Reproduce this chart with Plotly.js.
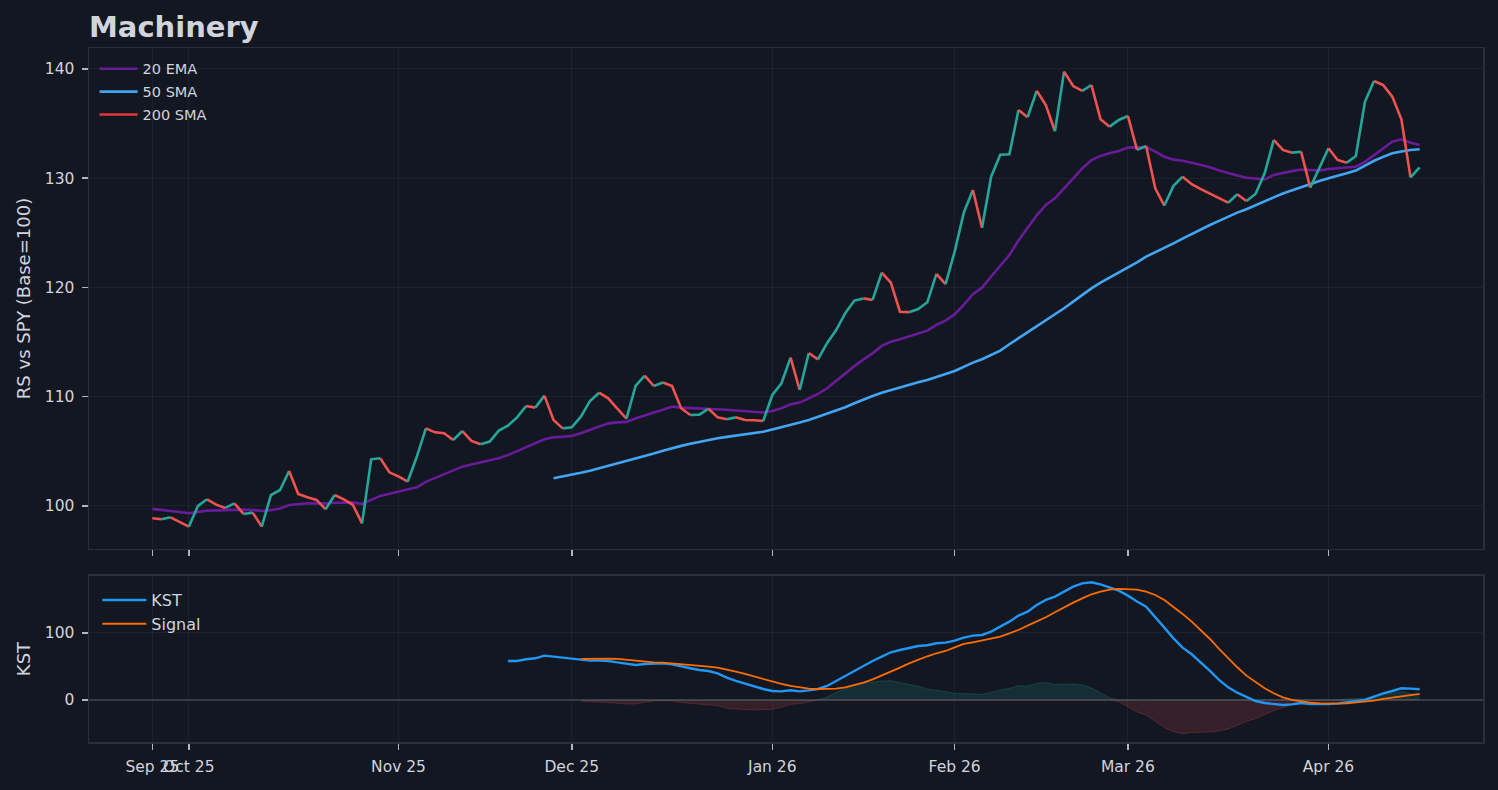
<!DOCTYPE html>
<html>
<head>
<meta charset="utf-8">
<script src="https://cdn.plot.ly/plotly-3.0.1.min.js"></script>
<style>
  html, body { margin: 0; padding: 0; background: #131722; }
  #chart { width: 1498px; height: 790px; }
</style>
</head>
<body>
<div id="chart"></div>
<script>
// trading-day index of the first session of each month (Sep 25 = first bar)
var tickIdx = [0, 4, 27, 46, 68, 88, 107, 129];
var tickLabels = ['Sep 25', 'Oct 25', 'Nov 25', 'Dec 25', 'Jan 26', 'Feb 26', 'Mar 26', 'Apr 26'];

// relative strength vs SPY, base 100
var rs = [
  98.87, 98.78, 98.96, 98.54, 98.11, 100.0, 100.61, 100.12, 99.82, 100.24,
  99.27, 99.39, 98.11, 101.0, 101.46, 103.2, 101.1, 100.8, 100.55, 99.7,
  101.0, 100.61, 100.09, 98.4, 104.27, 104.36, 103.08, 102.7, 102.22, 104.5,
  107.1, 106.74, 106.65, 106.04, 106.86, 105.95, 105.64, 105.89, 106.9, 107.35,
  108.11, 109.15, 109.0, 110.1, 107.87, 107.1, 107.2, 108.17, 109.61, 110.37,
  109.85, 108.9, 108.0, 110.98, 111.93, 110.98, 111.3, 110.98, 108.94, 108.33,
  108.36, 108.9, 108.11, 107.93, 108.11, 107.87, 107.85, 107.78, 110.16, 111.23,
  113.58, 110.62, 114.0, 113.42, 114.9, 116.1, 117.65, 118.8, 119.0, 118.86,
  121.36, 120.44, 117.78, 117.74, 118.03, 118.64, 121.24, 120.3, 123.28, 126.85,
  128.92, 125.47, 130.14, 132.15, 132.2, 136.25, 135.58, 138.0, 136.7, 134.3,
  139.76, 138.44, 137.99, 138.53, 135.39, 134.72, 135.33, 135.7, 132.59, 132.95,
  129.08, 127.5, 129.3, 130.14, 129.45, 129.0, 128.6, 128.16, 127.76, 128.53,
  127.92, 128.56, 130.45, 133.5, 132.59, 132.34, 132.43, 129.14, 130.9, 132.74,
  131.67, 131.42, 132.04, 137.0, 138.9, 138.53, 137.47, 135.4, 130.08, 131.0
];

var ema20 = [
  99.73, 99.65, 99.57, 99.45, 99.33, 99.45, 99.57, 99.6, 99.62, 99.7,
  99.66, 99.63, 99.54, 99.62, 99.76, 100.09, 100.18, 100.24, 100.25, 100.24,
  100.3, 100.34, 100.33, 100.18, 100.55, 100.92, 101.12, 101.31, 101.46, 101.7,
  102.2, 102.55, 102.9, 103.25, 103.6, 103.8, 103.97, 104.17, 104.36, 104.65,
  105.0, 105.35, 105.7, 106.1, 106.28, 106.35, 106.4, 106.65, 106.96, 107.26,
  107.56, 107.65, 107.7, 108.0, 108.3, 108.55, 108.8, 109.1, 109.0, 108.97,
  108.94, 108.9, 108.85, 108.8, 108.74, 108.68, 108.62, 108.55, 108.7, 108.94,
  109.3, 109.46, 109.85, 110.25, 110.77, 111.47, 112.14, 112.8, 113.42, 113.97,
  114.65, 115.04, 115.26, 115.5, 115.74, 116.05, 116.57, 116.96, 117.55, 118.4,
  119.38, 119.98, 121.0, 121.97, 122.97, 124.3, 125.5, 126.6, 127.55, 128.16,
  129.08, 130.0, 130.9, 131.67, 132.04, 132.28, 132.5, 132.8, 132.8, 132.85,
  132.43, 131.97, 131.7, 131.6, 131.42, 131.2, 131.0, 130.7, 130.45, 130.25,
  130.05, 129.95, 129.9, 130.3, 130.5, 130.65, 130.8, 130.75, 130.7, 130.85,
  130.9, 130.95, 131.05, 131.5, 132.13, 132.74, 133.35, 133.56, 133.25, 133.04
];

var sma50Start = 44;
var sma50 = [
  102.53, 102.68, 102.84, 103.03, 103.23,
  103.45, 103.66, 103.88, 104.1, 104.3, 104.55, 104.8, 105.05, 105.3, 105.5,
  105.7, 105.88, 106.04, 106.2, 106.32, 106.45, 106.55, 106.68, 106.8, 107.0,
  107.2, 107.45, 107.63, 107.87, 108.17, 108.42, 108.7, 109.03, 109.4, 109.76,
  110.07, 110.37, 110.62, 110.86, 111.08, 111.32, 111.53, 111.84, 112.08, 112.36,
  112.75, 113.12, 113.43, 113.82, 114.22, 114.8, 115.35, 115.87, 116.41, 116.96,
  117.55, 118.1, 118.7, 119.31, 119.92, 120.44, 120.9, 121.36, 121.85, 122.3,
  122.82, 123.22, 123.58, 124.04, 124.47, 124.9, 125.26, 125.72, 126.1, 126.5,
  126.85, 127.16, 127.5, 127.86, 128.25, 128.6, 128.9, 129.2, 129.5, 129.75,
  130.0, 130.2, 130.45, 130.7, 131.15, 131.6, 131.95, 132.28, 132.45, 132.59,
  132.65
];

// not enough history for a 200 day average: legend entry only
var sma200 = [null];

var kstStart = 39;
var kst = [
  58.2, 58.2, 60.7, 62.2, 66.2,
  64.7, 62.2, 60.7, 59.7, 58.7, 58.7, 58.2, 56.2, 53.7, 52.2,
  53.7, 54.7, 54.7, 53.2, 49.8, 47.3, 44.8, 43.3, 39.8, 33.3,
  28.4, 24.4, 19.9, 16.4, 13.4, 12.9, 14.4, 12.9, 14.4, 16.4,
  20.9, 28.4, 35.8, 43.8, 51.2, 58.2, 64.7, 71.2, 74.6, 78.1,
  80.6, 81.6, 84.6, 85.6, 88.5, 93, 96, 97, 102, 109.4,
  116.9, 125.9, 131.8, 141.8, 149.3, 154.2, 161.7, 169.2, 174.1, 175.6,
  172.6, 167.7, 163.2, 155.7, 146.8, 139.3, 124.4, 108, 92, 78.1,
  68.2, 56.2, 43.3, 29.9, 18.9, 10.9, 4.5, -1.5, -4.5, -6,
  -7.5, -6.5, -4.5, -6, -6.5, -6, -5, -3.5, -2.5, 0,
  5, 10, 13.4, 17.4, 16.9, 16
];

var signalStart = 47;
var signal = [
  61.2, 61.7,
  61.7, 61.7, 61.2, 59.7, 58.2, 57.2, 56.2, 55.7, 54.7, 53.7,
  52.2, 51.2, 49.8, 48.3, 45.8, 42.3, 38.8, 34.8, 31.3, 27.4,
  23.9, 20.9, 18.4, 16.9, 16.4, 16.4, 16.9, 18.9, 21.9, 25.9,
  30.8, 36.3, 42.3, 48.3, 54.7, 60.2, 65.2, 69.7, 73.1, 78.5,
  83.6, 86.1, 88.6, 91, 94.5, 99.5, 104.5, 110.9, 116.9, 123.4,
  130.8, 138.3, 145.3, 151.7, 157.7, 161.7, 164.7, 165.7, 165.7, 164.7,
  161.7, 156.7, 149.3, 139.3, 128.4, 116.9, 104.5, 91, 76.1, 62.2,
  48.8, 36.3, 26.4, 17.4, 10, 4, 0, -2.5, -4, -5,
  -5.5, -5.5, -5, -4, -2.5, -1, 1.5, 3.5, 5, 7,
  9
];

var BG = '#131722';
var TEXT = '#d1d4dc';
var FRAME = '#2a2e39';
var GRID = 'rgba(255,255,255,0.045)';
var UP = '#26a69a';
var DOWN = '#ef5350';

function idx(start, arr) {
  var out = [];
  for (var j = 0; j < arr.length; j++) out.push(start + j);
  return out;
}

var traces = [];

traces.push({
  x: idx(0, ema20), y: ema20, name: '20 EMA', type: 'scatter', mode: 'lines', legendgroup: 'a',
  line: {color: '#6a1b9a', width: 2.6}, xaxis: 'x', yaxis: 'y', hoverinfo: 'skip'
});
traces.push({
  x: idx(sma50Start, sma50), y: sma50, name: '50 SMA', type: 'scatter', mode: 'lines', legendgroup: 'b',
  line: {color: '#42a5f5', width: 2.6}, xaxis: 'x', yaxis: 'y', hoverinfo: 'skip'
});
traces.push({
  x: idx(0, sma200), y: sma200, name: '200 SMA', type: 'scatter', mode: 'lines', legendgroup: 'c',
  line: {color: '#e53935', width: 2.6}, xaxis: 'x', yaxis: 'y', hoverinfo: 'skip'
});

// RS line coloured by direction: one trace per run of up / down days
var start = 0;
for (var i = 1; i < rs.length; i++) {
  var up = rs[i] > rs[i - 1];
  var nextUp = (i + 1 < rs.length) ? rs[i + 1] > rs[i] : null;
  if (nextUp !== up) {
    var xs = [], ys = [];
    for (var j = start; j <= i; j++) { xs.push(j); ys.push(rs[j]); }
    traces.push({
      x: xs, y: ys, type: 'scatter', mode: 'lines', showlegend: false,
      line: {color: up ? UP : DOWN, width: 2.6}, xaxis: 'x', yaxis: 'y', hoverinfo: 'skip'
    });
    start = i;
  }
}

// KST histogram = KST - signal, split by sign
var hx = [], hPos = [], hNeg = [];
for (var k = 0; k < signal.length; k++) {
  var d = signalStart + k;
  var h = kst[d - kstStart] - signal[k];
  hx.push(d);
  hPos.push(Math.max(h, 0));
  hNeg.push(Math.min(h, 0));
}
traces.push({
  x: hx, y: hPos, type: 'scatter', mode: 'lines', fill: 'tozeroy', showlegend: false,
  fillcolor: 'rgba(38,166,154,0.16)', line: {color: 'rgba(38,166,154,0.22)', width: 1},
  xaxis: 'x2', yaxis: 'y2', hoverinfo: 'skip'
});
traces.push({
  x: hx, y: hNeg, type: 'scatter', mode: 'lines', fill: 'tozeroy', showlegend: false,
  fillcolor: 'rgba(239,83,80,0.16)', line: {color: 'rgba(239,83,80,0.22)', width: 1},
  xaxis: 'x2', yaxis: 'y2', hoverinfo: 'skip'
});
traces.push({
  x: idx(kstStart, kst), y: kst, name: 'KST', type: 'scatter', mode: 'lines', legendgroup: 'k',
  line: {color: '#2196f3', width: 2.4}, xaxis: 'x2', yaxis: 'y2', legend: 'legend2', hoverinfo: 'skip'
});
traces.push({
  x: idx(signalStart, signal), y: signal, name: 'Signal', type: 'scatter', mode: 'lines', legendgroup: 's',
  line: {color: '#ff6d00', width: 1.8}, xaxis: 'x2', yaxis: 'y2', legend: 'legend2', hoverinfo: 'skip'
});

var xCommon = {
  range: [-6.95, 145.95],
  tickmode: 'array', tickvals: tickIdx, ticktext: tickLabels, tickangle: 0,
  ticks: 'outside', ticklen: 6, tickwidth: 1.5, tickcolor: '#b2b5be',
  ticklabelstandoff: 4,
  showgrid: true, gridcolor: GRID, gridwidth: 1,
  showline: true, mirror: true, linecolor: FRAME, linewidth: 1.5,
  zeroline: false, automargin: false,
  tickfont: {size: 15.5, color: TEXT}
};

var layout = {
  width: 1498, height: 790,
  paper_bgcolor: BG, plot_bgcolor: BG,
  font: {family: 'DejaVu Sans', color: TEXT},
  margin: {l: 89, r: 15, t: 48, b: 48, pad: 0},
  title: {
    text: '<b>Machinery</b>', x: 0.0594, xanchor: 'left', xref: 'container',
    y: 0.966, yanchor: 'middle', font: {size: 29, color: '#d1d4dc', family: 'DejaVu Sans'}
  },
  showlegend: true,
  legend: {
    x: 0.004, y: 0.993, xanchor: 'left', yanchor: 'top', itemwidth: 38,
    bgcolor: 'rgba(0,0,0,0)', font: {size: 14.5, color: TEXT}, tracegroupgap: 1
  },
  legend2: {
    x: 0.006, y: 0.229, xanchor: 'left', yanchor: 'top', itemwidth: 44,
    bgcolor: 'rgba(0,0,0,0)', font: {size: 16, color: TEXT}, tracegroupgap: 0
  },
  xaxis: Object.assign({}, xCommon, {anchor: 'y', showticklabels: false}),
  xaxis2: Object.assign({}, xCommon, {anchor: 'y2', showticklabels: true}),
  yaxis: {
    domain: [0.2781, 1], anchor: 'x', range: [96.06, 141.92],
    tickmode: 'array', tickvals: [100, 110, 120, 130, 140],
    ticks: 'outside', ticklen: 6, tickwidth: 1.5, tickcolor: '#b2b5be',
    ticklabelstandoff: 4,
    showgrid: true, gridcolor: GRID, showline: true, mirror: true,
    linecolor: FRAME, linewidth: 1.5, zeroline: false, automargin: false,
    tickfont: {size: 15.5, color: TEXT},
    title: {text: 'RS vs SPY (Base=100)', font: {size: 18, color: TEXT}, standoff: 9}
  },
  yaxis2: {
    domain: [0, 0.2392], anchor: 'x2', range: [-62.7, 185],
    tickmode: 'array', tickvals: [0, 100],
    ticks: 'outside', ticklen: 6, tickwidth: 1.5, tickcolor: '#b2b5be',
    ticklabelstandoff: 4,
    showgrid: true, gridcolor: GRID, showline: true, mirror: true,
    linecolor: FRAME, linewidth: 1.5, automargin: false,
    zeroline: true, zerolinecolor: '#363a45', zerolinewidth: 2,
    tickfont: {size: 15.5, color: TEXT},
    title: {text: 'KST', font: {size: 18, color: TEXT}, standoff: 9}
  }
};

Plotly.newPlot('chart', traces, layout, {displayModeBar: false, staticPlot: true});
</script>
</body>
</html>
